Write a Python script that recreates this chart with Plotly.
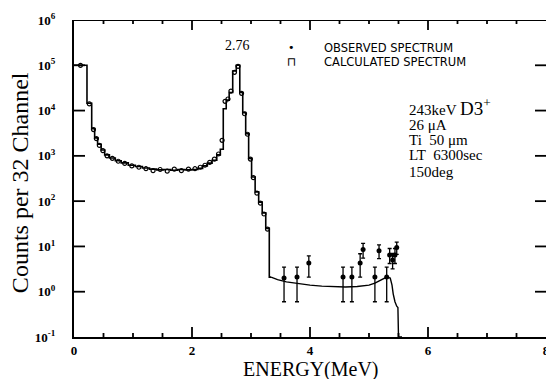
import math
import plotly.graph_objects as go

# ---- data ----
# calculated spectrum (histogram, left bin edges in MeV and counts)
calc_E = [0.00, 0.22, 0.30, 0.35, 0.40, 0.46, 0.52, 0.60, 0.70, 0.80, 0.92, 1.04,
          1.16, 1.28, 1.40, 1.52, 1.64, 1.76, 1.88, 2.00, 2.10, 2.18, 2.26, 2.34,
          2.42, 2.48, 2.53, 2.58, 2.63, 2.69, 2.75, 2.81, 2.86, 2.91, 2.96, 3.01,
          3.07, 3.13, 3.19, 3.25, 3.31, 3.34]
calc_C = [1.0e5, 1.45e4, 4.0e3, 2.5e3, 1.8e3, 1.35e3, 1.05e3, 9.0e2, 7.8e2, 7.0e2,
          6.2e2, 5.8e2, 5.4e2, 5.1e2, 4.9e2, 5.0e2, 4.8e2, 5.0e2, 4.9e2, 5.0e2,
          5.3e2, 6.0e2, 6.9e2, 8.0e2, 1.05e3, 1.4e3, 1.1e4, 1.7e4, 2.5e4, 7.5e4,
          1.0e5, 2.5e4, 9.0e3, 3.1e3, 8.8e2, 3.4e2, 1.6e2, 9.5e1, 5.5e1, 2.5e1,
          2.1, 2.1]
# calculated spectrum tail (smooth part)
tail_E = [3.34, 3.45, 3.60, 3.80, 4.00, 4.20, 4.40, 4.60, 4.80, 5.00, 5.10, 5.20,
          5.30, 5.36, 5.39, 5.41, 5.44, 5.47, 5.49, 5.50, 5.56]
tail_C = [2.1, 1.85, 1.65, 1.5, 1.4, 1.33, 1.28, 1.27, 1.3, 1.4, 1.55, 1.8,
          2.1, 2.0, 1.4, 0.9, 0.6, 0.48, 0.45, 0.1, 0.1]

# observed spectrum along the main curve
obs_E = [0.11, 0.26, 0.33, 0.38, 0.43, 0.49, 0.56, 0.65, 0.75, 0.86, 0.98, 1.10,
         1.22, 1.34, 1.46, 1.58, 1.70, 1.82, 1.94, 2.05, 2.14, 2.22, 2.30, 2.38,
         2.45, 2.51, 2.56, 2.61, 2.66, 2.72, 2.78, 2.84, 2.89, 2.94, 2.99, 3.04,
         3.10, 3.16, 3.22, 3.28]
obs_C = [1.0e5, 1.4e4, 3.8e3, 2.4e3, 1.7e3, 1.3e3, 1.0e3, 8.8e2, 7.6e2, 6.8e2,
         6.0e2, 5.6e2, 5.2e2, 4.7e2, 5.0e2, 4.6e2, 5.1e2, 4.7e2, 5.1e2, 5.2e2,
         5.6e2, 6.2e2, 7.2e2, 8.5e2, 1.1e3, 2.2e3, 1.6e4, 1.8e4, 2.7e4, 7.0e4,
         9.5e4, 2.4e4, 8.5e3, 3.0e3, 8.5e2, 3.3e2, 1.5e2, 9.0e1, 5.2e1, 2.4e1]

# observed spectrum in the tail, with error bars (counts)
err_E = [3.56, 3.78, 3.98, 4.56, 4.71, 4.85, 4.90, 5.10, 5.17, 5.30, 5.35, 5.40,
         5.44, 5.47]
err_C = [2.0, 2.1, 4.3, 2.1, 2.1, 4.3, 8.5, 2.1, 8.0, 2.1, 6.5, 5.0, 6.5, 9.5]
err_hi = [1.5, 1.4, 1.9, 1.4, 1.4, 2.6, 3.2, 1.4, 2.8, 1.4, 2.5, 2.0, 2.5, 3.0]
err_lo = [1.4, 1.5, 2.2, 1.5, 1.5, 2.2, 3.0, 1.5, 2.6, 1.5, 2.3, 1.8, 2.3, 2.8]

x_ticks = [0, 2, 4, 6, 8]
x_minor_step = 0.5
y_tickvals = [1e-1, 1e0, 1e1, 1e2, 1e3, 1e4, 1e5, 1e6]
y_ticktext = ["<b>10<sup>-1</sup></b>", "<b>10<sup>0</sup></b>", "<b>10<sup>1</sup></b>",
              "<b>10<sup>2</sup></b>", "<b>10<sup>3</sup></b>", "<b>10<sup>4</sup></b>",
              "<b>10<sup>5</sup></b>", "<b>10<sup>6</sup></b>"]

SERIF = "Liberation Serif, Times New Roman, serif"

W, H = 546, 379
ML, MR, MT, MB = 74, 0, 20, 42
x_range = [x_ticks[0], x_ticks[-1]]
y_range = [math.log10(y_tickvals[0]), math.log10(y_tickvals[-1])]

fig = go.Figure()
fig.add_trace(go.Scatter(x=calc_E, y=calc_C, mode="lines", line_shape="hv",
                         line=dict(color="black", width=1.6), showlegend=False))
fig.add_trace(go.Scatter(x=tail_E, y=tail_C, mode="lines",
                         line=dict(color="black", width=1.4), showlegend=False))
fig.add_trace(go.Scatter(x=obs_E, y=obs_C, mode="markers",
                         marker=dict(symbol="circle-open", size=4, color="black",
                                     line=dict(width=1.2, color="black")),
                         showlegend=False))
fig.add_trace(go.Scatter(x=err_E, y=err_C, mode="markers",
                         marker=dict(symbol="circle", size=5, color="black"),
                         error_y=dict(type="data", symmetric=False, array=err_hi,
                                      arrayminus=err_lo, color="black",
                                      thickness=1.3, width=2),
                         showlegend=False))

# frame decoration (top border + inward ticks), derived from the axis tick lists
px_x = (x_range[1] - x_range[0]) / (W - ML - MR)      # MeV per pixel
px_y = (y_range[1] - y_range[0]) / (H - MT - MB)      # decades per pixel
fx, fy = [x_range[0], x_range[1], None], [y_tickvals[-1], y_tickvals[-1], None]
n_minor = int(round((x_range[1] - x_range[0]) / x_minor_step))
for i in range(1, n_minor):
    xv = x_range[0] + i * x_minor_step
    ln = 10 if xv in x_ticks else 4
    fx += [xv, xv, None, xv, xv, None]
    fy += [10 ** y_range[0], 10 ** (y_range[0] + ln * px_y), None,
           10 ** y_range[1], 10 ** (y_range[1] - ln * px_y), None]
for yv in y_tickvals[1:-1]:
    fx += [x_range[0], x_range[0] + 11 * px_x, None,
           x_range[1], x_range[1] - 11 * px_x, None]
    fy += [yv, yv, None, yv, yv, None]
fig.add_trace(go.Scatter(x=fx, y=fy, mode="lines", line=dict(color="black", width=1.8),
                         cliponaxis=False, connectgaps=False, showlegend=False,
                         hoverinfo="skip"))

axis_font = dict(family=SERIF, size=13, color="black")

fig.update_layout(
    template="simple_white",
    width=W, height=H,
    margin=dict(l=ML, r=MR, t=MT, b=MB, autoexpand=False),
    paper_bgcolor="white", plot_bgcolor="white",
    xaxis=dict(range=x_range, tickvals=x_ticks,
               ticktext=["<b>%d</b>" % v for v in x_ticks],
               ticks="", showline=True, linecolor="black", linewidth=2,
               showgrid=False, zeroline=False, tickfont=axis_font,
               ticklabeloverflow="allow", automargin=False),
    yaxis=dict(type="log", range=y_range, tickvals=y_tickvals, ticktext=y_ticktext,
               ticks="", showline=True, linecolor="black", linewidth=2,
               showgrid=False, zeroline=False, tickfont=axis_font,
               ticklabelstandoff=14, automargin=False),
)

ann = []
ann.append(dict(text="Counts per 32 Channel", xref="paper", yref="paper",
                x=-0.114, y=0.486, textangle=-90, showarrow=False,
                font=dict(family=SERIF, size=24, color="black"),
                xanchor="center", yanchor="middle"))
ann.append(dict(text="ENERGY(MeV)", xref="paper", yref="paper", x=0.502, y=-0.104,
                showarrow=False, font=dict(family=SERIF, size=20, color="black"),
                xanchor="center", yanchor="middle"))
ann.append(dict(text="2.76", xref="paper", yref="paper", x=0.347, y=0.921,
                showarrow=False, font=dict(family=SERIF, size=14, color="black"),
                xanchor="center", yanchor="middle"))
ann.append(dict(text="•", xref="paper", yref="paper", x=0.46, y=0.912,
                showarrow=False, font=dict(family="DejaVu Sans", size=11, color="black"),
                xanchor="center", yanchor="middle"))
ann.append(dict(text="⊓", xref="paper", yref="paper", x=0.46, y=0.8675,
                showarrow=False, font=dict(family="DejaVu Sans", size=12, color="black"),
                xanchor="center", yanchor="middle"))
ann.append(dict(text="OBSERVED SPECTRUM", xref="paper", yref="paper", x=0.525, y=0.912,
                showarrow=False, font=dict(family="DejaVu Sans", size=11.5, color="black"),
                xanchor="left", yanchor="middle"))
ann.append(dict(text="CALCULATED SPECTRUM", xref="paper", yref="paper", x=0.525,
                y=0.8675, showarrow=False,
                font=dict(family="DejaVu Sans", size=11.5, color="black"),
                xanchor="left", yanchor="middle"))
info_lines = ["243keV <span style='font-size:19px'>D3<sup>+</sup></span>",
              "26 μA", "Ti  50 μm", "LT  6300sec", "150deg"]
info_y = [0.7256, 0.669, 0.621, 0.574, 0.5205]
for t, yy in zip(info_lines, info_y):
    ann.append(dict(text=t, xref="paper", yref="paper", x=0.7055, y=yy,
                    showarrow=False, font=dict(family=SERIF, size=15, color="black"),
                    xanchor="left", yanchor="middle"))
fig.update_layout(annotations=ann)

# remove the default page margin so the figure fills the window exactly
fig.write_html("out.html", config={"displayModeBar": False},
               post_script="document.body.style.margin='0';document.body.style.overflow='hidden';")
